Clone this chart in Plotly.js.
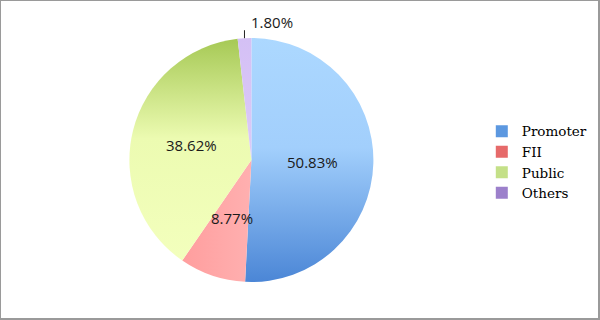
<!DOCTYPE html>
<html>
<head>
<meta charset="utf-8">
<script src="https://cdn.plot.ly/plotly-3.0.1.min.js"></script>
<style>
  html, body { margin: 0; padding: 0; background: #fff; }
  #wrap { position: relative; width: 600px; height: 320px; }
  #chart { width: 600px; height: 320px; }
  #frame { position: absolute; left: 0; top: 0; width: 600px; height: 320px; box-sizing: border-box;
           border-top: 1px solid #9a9a9a; border-left: 1px solid #9a9a9a;
           border-right: 2px solid #9a9a9a; border-bottom: 2px solid #9a9a9a; pointer-events: none; }
</style>
</head>
<body>
<div id="wrap"><div id="chart"></div><div id="frame"></div></div>
<script>
const labels = ['Promoter', 'FII', 'Public', 'Others'];
const values = [50.83, 8.77, 38.62, 1.80];
const sliceColors = ['#98C9F8', '#FFA4A4', '#D8EE9E', '#D7C4F6'];
const legendColors = ['#5C98E0', '#E66A6A', '#C4E088', '#9C80CB'];
const labelOutside = [false, false, false, true];
const gradients = [
  [[0, '#ACD8FF'], [0.45, '#A2CFFC'], [1, '#4B86D6']],
  [[0, '#FF9E9E'], [1, '#FFB0B0']],
  [[0, '#A6C955'], [0.45, '#ECFBB1'], [1, '#F3FFBD']],
  [[0, '#D4C0F5'], [1, '#DCCAF8']]
];

const W = 600, H = 320;
const margin = { l: 0, r: 0, t: 37.5, b: 37.5 };
const domainX = [0.169, 0.669];
const plotW = W - margin.l - margin.r, plotH = H - margin.t - margin.b;
const radiusPx = Math.min((domainX[1] - domainX[0]) * plotW, plotH) / 2;
const cx = (domainX[0] + domainX[1]) / 2, cy = 0.5;
const rx = radiusPx / plotW, ry = radiusPx / plotH;

const total = values.reduce((a, b) => a + b, 0);
const annotations = [];
const shapes = [];
let cum = 0;
values.forEach((v, i) => {
  const mid = (cum + v / 2) / total * 2 * Math.PI; // clockwise from 12 o'clock
  cum += v;
  const sx = Math.sin(mid), sy = Math.cos(mid);
  const txt = v.toFixed(2) + '%';
  if (!labelOutside[i]) {
    annotations.push({ xref: 'paper', yref: 'paper', x: cx + 0.5 * rx * sx, y: cy + 0.5 * ry * sy,
      text: txt, showarrow: false, xanchor: 'center', yanchor: 'middle',
      font: { family: 'Open Sans', size: 15, color: '#1a1a1a' } });
  } else {
    const ex = cx + rx * sx, ey = cy + ry * sy;
    shapes.push({ type: 'line', xref: 'paper', yref: 'paper', x0: ex, y0: ey, x1: ex, y1: ey + 8 / plotH,
      line: { color: '#222222', width: 1 } });
    annotations.push({ xref: 'paper', yref: 'paper', x: ex, y: ey, text: txt, showarrow: false,
      xanchor: 'left', yanchor: 'middle', xshift: 5, yshift: 16,
      font: { family: 'Open Sans', size: 15, color: '#1a1a1a' } });
  }
});

const trace = {
  type: 'pie',
  labels: labels,
  values: values,
  textinfo: 'none',
  sort: false,
  direction: 'clockwise',
  rotation: 0,
  marker: { colors: sliceColors, line: { width: 0 } },
  domain: { x: domainX, y: [0, 1] },
  hoverinfo: 'none'
};

const layout = {
  width: W, height: H,
  margin: margin,
  paper_bgcolor: '#ffffff',
  showlegend: true,
  annotations: annotations,
  shapes: shapes,
  legend: {
    x: 0.803, xanchor: 'left', y: 0.49, yanchor: 'middle',
    font: { family: 'DejaVu Serif', size: 13.5, color: '#000000' },
    bgcolor: 'rgba(0,0,0,0)'
  }
};

const gd = document.getElementById('chart');
Plotly.newPlot(gd, [trace], layout, { displayModeBar: false, staticPlot: true }).then(() => {
  const NS = 'http://www.w3.org/2000/svg';
  const svg = gd.querySelector('svg.main-svg');
  let defs = svg.querySelector('defs');
  if (!defs) { defs = document.createElementNS(NS, 'defs'); svg.insertBefore(defs, svg.firstChild); }
  gradients.forEach((stops, i) => {
    const g = document.createElementNS(NS, 'linearGradient');
    g.setAttribute('id', 'sliceGrad' + i);
    g.setAttribute('x1', '0'); g.setAttribute('y1', '0');
    g.setAttribute('x2', i === 1 ? '1' : '0'); g.setAttribute('y2', i === 1 ? '0' : '1');
    stops.forEach(s => {
      const st = document.createElementNS(NS, 'stop');
      st.setAttribute('offset', s[0]);
      st.setAttribute('stop-color', s[1]);
      g.appendChild(st);
    });
    defs.appendChild(g);
  });
  gd.querySelectorAll('.pielayer .slice path.surface').forEach((p, i) => {
    p.style.fill = 'url(#sliceGrad' + i + ')';
  });
  gd.querySelectorAll('.legend .traces').forEach((t, i) => {
    const p = t.querySelector('.legendpoints path');
    if (p) { p.style.fill = legendColors[i]; p.style.stroke = 'none'; }
  });
});
</script>
</body>
</html>
